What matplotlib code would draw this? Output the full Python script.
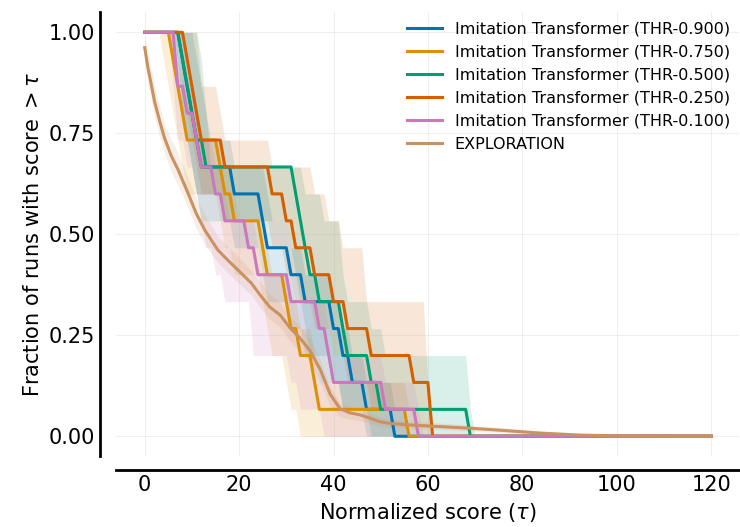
import numpy as np
import matplotlib
matplotlib.use("Agg")
import matplotlib.pyplot as plt

# per-run normalized scores (15 runs each)
labels = ["Imitation Transformer (THR-0.900)", "Imitation Transformer (THR-0.750)",
          "Imitation Transformer (THR-0.500)", "Imitation Transformer (THR-0.250)",
          "Imitation Transformer (THR-0.100)"]
colors = ["#0173b2", "#de8f05", "#029e73", "#d55e00", "#cc78bc"]

thr_900 = [7.5, 8.5, 9.6, 10.6, 11.7, 18.2, 24.5, 26.0, 30.4, 33.2, 39.4, 42.0, 43.5, 46.7, 53.0]
thr_900_lo = [6.0, 7.0, 7.5, 8.5, 9.6, 10.6, 17.0, 18.2, 24.5, 26.0, 30.4, 33.2, 39.4, 42.0, 46.7]
thr_900_hi = [10.6, 11.7, 12.5, 13.5, 18.2, 25.7, 26.5, 30.4, 33.2, 39.4, 42.0, 43.5, 46.7, 53.0, 55.5]

thr_750 = [5.2, 6.2, 7.2, 8.2, 15.3, 17.0, 18.6, 24.6, 25.8, 29.5, 31.0, 32.5, 35.5, 37.0, 55.3]
thr_750_lo = [4.0, 4.8, 5.2, 6.2, 7.2, 8.2, 15.3, 17.0, 18.6, 24.6, 25.8, 26.5, 29.5, 31.0, 32.5]
thr_750_hi = [6.5, 7.5, 8.5, 12.0, 17.0, 18.6, 20.0, 25.8, 27.0, 31.0, 32.5, 35.5, 37.0, 55.3, 57.0]

thr_500 = [8.0, 9.0, 10.0, 11.0, 12.5, 32.0, 32.8, 33.6, 34.4, 36.9, 41.6, 42.2, 47.8, 50.0, 68.6]
thr_500_lo = [6.5, 7.5, 8.0, 9.0, 10.0, 11.0, 12.0, 30.5, 32.0, 32.8, 33.6, 34.4, 36.9, 41.6, 47.8]
thr_500_hi = [11.5, 12.5, 13.0, 13.5, 14.0, 34.0, 37.8, 41.4, 41.8, 42.5, 48.0, 50.5, 68.4, 68.8, 69.2]

thr_250 = [8.8, 9.9, 11.0, 12.0, 16.5, 26.2, 29.8, 31.5, 35.8, 39.4, 43.0, 47.3, 56.7, 60.3, 60.6]
thr_250_lo = [7.5, 8.0, 8.8, 9.9, 11.0, 12.0, 16.5, 26.2, 29.8, 31.5, 35.8, 39.4, 43.0, 47.3, 56.7]
thr_250_hi = [11.5, 12.0, 16.0, 16.5, 27.0, 35.5, 38.5, 41.5, 46.5, 47.0, 59.5, 59.8, 60.0, 60.3, 61.0]

thr_100 = [6.7, 6.7, 9.0, 10.3, 11.6, 14.2, 16.3, 21.5, 23.5, 30.9, 37.0, 38.5, 40.0, 50.3, 57.9]
thr_100_lo = [5.5, 6.0, 6.7, 6.7, 9.0, 10.3, 11.6, 13.0, 14.2, 16.3, 22.3, 22.8, 30.9, 33.0, 38.0]
thr_100_hi = [8.0, 8.5, 10.3, 11.6, 14.2, 16.3, 18.0, 23.5, 25.0, 31.5, 38.5, 40.0, 50.3, 57.9, 59.0]

# exploration profile (read as points)
expl_tau = [0, 0.7, 1.4, 2.1, 3.2, 4.2, 5.6, 7.1, 9.2, 10.9, 12.7, 15.5, 17.6, 19.8, 22.6, 24.7,
            26.5, 28.7, 30.8, 32.9, 35.0, 37.2, 39.3, 41.4, 43.5, 45.6, 47.7, 49.8, 51.9, 56.2,
            62.6, 68.9, 75.3, 83.7, 92.2, 100.7, 120]
expl_val = [0.962, 0.911, 0.870, 0.828, 0.779, 0.738, 0.695, 0.659, 0.601, 0.552, 0.511, 0.461,
            0.436, 0.411, 0.379, 0.346, 0.320, 0.300, 0.268, 0.243, 0.212, 0.165, 0.104, 0.068,
            0.058, 0.053, 0.045, 0.036, 0.032, 0.028, 0.024, 0.020, 0.015, 0.008, 0.003, 0.001, 0.0]
expl_lo = [0.93, 0.875, 0.83, 0.79, 0.74, 0.70, 0.655, 0.62, 0.565, 0.515, 0.475, 0.43, 0.405,
           0.38, 0.35, 0.315, 0.29, 0.27, 0.235, 0.21, 0.185, 0.135, 0.075, 0.048, 0.042, 0.039,
           0.032, 0.025, 0.022, 0.019, 0.016, 0.013, 0.009, 0.004, 0.001, 0.0, 0.0]
expl_hi = [0.99, 0.945, 0.905, 0.865, 0.815, 0.775, 0.735, 0.70, 0.64, 0.59, 0.55, 0.495, 0.47,
           0.445, 0.41, 0.38, 0.352, 0.332, 0.297, 0.272, 0.245, 0.19, 0.122, 0.083, 0.073, 0.068,
           0.058, 0.048, 0.043, 0.038, 0.033, 0.028, 0.022, 0.013, 0.006, 0.003, 0.0]

runs = [(thr_900, thr_900_lo, thr_900_hi), (thr_750, thr_750_lo, thr_750_hi),
        (thr_500, thr_500_lo, thr_500_hi), (thr_250, thr_250_lo, thr_250_hi),
        (thr_100, thr_100_lo, thr_100_hi)]

taus = np.linspace(0, 120, 121)


def profile(scores):
    s = np.array(scores)
    return np.array([(s > t).mean() for t in taus])


fig = plt.figure(figsize=(7.4, 5.27), dpi=100)
ax = fig.add_axes([0.1573, 0.1338, 0.8419, 0.8432])

for (mid, lo, hi), lab, c in zip(runs, labels, colors):
    ax.fill_between(taus, profile(lo), profile(hi), color=c, alpha=0.15, linewidth=0)
    ax.plot(taus, profile(mid), color=c, linewidth=2.2, label=lab)

ax.fill_between(expl_tau, expl_lo, expl_hi, color="#ca9161", alpha=0.15, linewidth=0)
ax.plot(expl_tau, expl_val, color="#ca9161", linewidth=2.2, label="EXPLORATION")

ax.set_xlim(-6, 126)
ax.set_ylim(-0.05, 1.05)
ax.set_xticks([0, 20, 40, 60, 80, 100, 120])
ax.set_yticks([0, 0.25, 0.5, 0.75, 1.0])
ax.set_yticklabels(["0.00", "0.25", "0.50", "0.75", "1.00"])
ax.grid(True, alpha=0.2)
ax.tick_params(length=0.1, width=0.1, labelsize=15)

for side in ["top", "right"]:
    ax.spines[side].set_visible(False)
ax.spines["left"].set_linewidth(2)
ax.spines["bottom"].set_linewidth(2)
ax.spines["left"].set_position(("outward", 12))
ax.spines["bottom"].set_position(("outward", 10))

ax.set_xlabel(r"Normalized score ($\tau$)", fontsize=15)
ax.set_ylabel(r"Fraction of runs with score $>\tau$", fontsize=15)
ax.legend(loc="upper right", frameon=False, fontsize=11.5, handlelength=2.2,
          borderaxespad=0.2)

fig.savefig("out.png", dpi=100)
